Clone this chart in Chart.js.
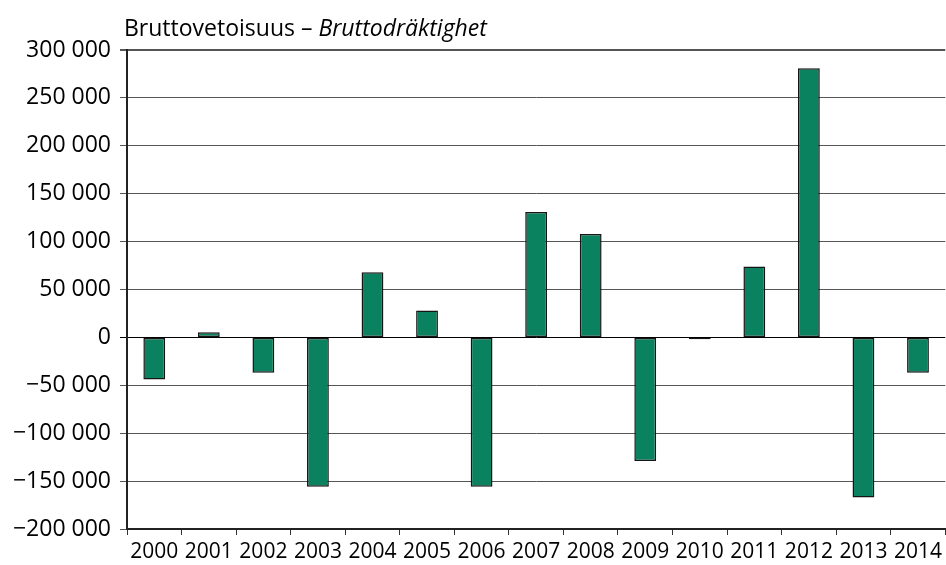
<!DOCTYPE html>
<html>
<head>
<meta charset="utf-8">
<script src="https://cdn.jsdelivr.net/npm/chart.js@4"></script>
<style>
  html, body { margin: 0; padding: 0; background: #fff; }
  #wrap { position: relative; width: 946px; height: 565px; }
  #title { position: absolute; left: 124px; top: 11px; font: 23px "Open Sans", sans-serif; color: #000; white-space: nowrap; }
</style>
</head>
<body>
<div id="wrap">
  <canvas id="barChart" width="946" height="565"></canvas>
  <div id="title">Bruttovetoisuus – <i>Bruttodräktighet</i></div>
</div>
<script>
var years = ['2000', '2001', '2002', '2003', '2004', '2005', '2006', '2007', '2008', '2009', '2010', '2011', '2012', '2013', '2014'];
var tonnage = [-44000, 5500, -37000, -156000, 68000, 28000, -156000, 131000, 108000, -129000, -2000, 74000, 281000, -167000, -37000];
var yMin = -200000;
var yMax = 300000;
var yStep = 50000;

function fmt(v) {
    var s = Math.abs(v).toString().replace(/\B(?=(\d{3})+(?!\d))/g, ' ');
    return (v < 0 ? '\u2212' : '') + s;
}

window.onload = function() {
    var ctx = document.getElementById('barChart').getContext('2d');
    var barChart = new Chart(ctx, {
        type: 'bar',
        data: {
            labels: years,
            datasets: [{
                data: tonnage,
                backgroundColor: '#0a815f',
                borderColor: '#151515',
                borderWidth: 1.5,
                borderSkipped: false,
                barPercentage: 0.4,
                categoryPercentage: 1
            }]
        },
        options: {
            responsive: false,
            animation: false,
            layout: { padding: { top: 50, right: 0, left: 0, bottom: 0 } },
            plugins: {
                legend: { display: false },
                tooltip: { enabled: false }
            },
            scales: {
                x: {
                    grid: {
                        offset: true,
                        drawOnChartArea: false,
                        drawTicks: true,
                        tickLength: 6,
                        color: '#333'
                    },
                    border: { color: '#222', width: 2 },
                    ticks: {
                        color: '#000',
                        font: { family: 'Open Sans', size: 21 },
                        maxRotation: 0,
                        autoSkip: false,
                        padding: 4
                    },
                    afterFit: function(scale) { scale.height = 36; }
                },
                y: {
                    min: yMin,
                    max: yMax,
                    grid: {
                        color: function(c) { return c.tick && c.tick.value === 0 ? '#000' : '#555'; },
                        lineWidth: function(c) { return c.tick && c.tick.value === yMax ? 2 : 1; },
                        tickLength: 7
                    },
                    border: { color: '#222', width: 2 },
                    ticks: {
                        stepSize: yStep,
                        color: '#000',
                        font: { family: 'Open Sans', size: 23 },
                        padding: 9,
                        callback: function(v) { return fmt(v); }
                    },
                    afterFit: function(scale) { scale.width = 127; }
                }
            }
        }
    });
};
</script>
</body>
</html>
